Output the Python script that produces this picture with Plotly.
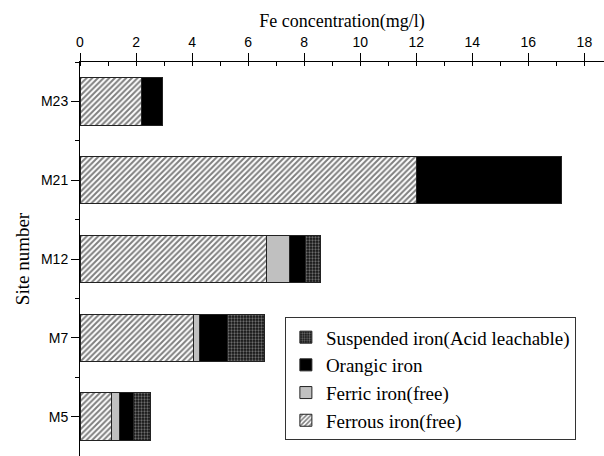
import plotly.graph_objects as go

sites = ["M5", "M7", "M12", "M21", "M23"]
ferrous = [1.12, 4.04, 6.64, 12.02, 2.20]
ferric = [0.30, 0.22, 0.82, 0.0, 0.0]
organic = [0.48, 1.01, 0.60, 5.16, 0.76]
suspended = [0.61, 1.32, 0.52, 0.0, 0.0]
x_ticks = [0, 2, 4, 6, 8, 10, 12, 14, 16, 18]

SERIF = "Liberation Serif"
SANS = "Liberation Sans"

ypos = list(range(len(sites)))
line = dict(color="#222", width=1)

fig = go.Figure()
fig.add_trace(go.Bar(
    y=ypos, x=ferrous, orientation="h", name="Ferrous iron(free)",
    marker=dict(color="white", line=line,
                pattern=dict(shape="/", fgcolor="black", bgcolor="white", size=4, solidity=0.5)),
    width=0.6))
fig.add_trace(go.Bar(
    y=ypos, x=ferric, orientation="h", name="Ferric iron(free)",
    marker=dict(color="#c0c0c0", line=line), width=0.6))
fig.add_trace(go.Bar(
    y=ypos, x=organic, orientation="h", name="Orangic iron",
    marker=dict(color="black", line=line), width=0.6))
fig.add_trace(go.Bar(
    y=ypos, x=suspended, orientation="h", name="Suspended iron(Acid leachable)",
    marker=dict(color="#111", line=line,
                pattern=dict(shape=".", fgcolor="#c8c8c8", bgcolor="#111", size=3, solidity=0.45)),
    width=0.6))

fig.update_layout(
    barmode="stack",
    width=604, height=456,
    margin=dict(l=80, r=0, t=62, b=0),
    plot_bgcolor="white", paper_bgcolor="white",
    font=dict(family=SANS, size=14, color="black"),
    showlegend=True,
    legend=dict(
        x=0.391, y=0.352, xanchor="left", yanchor="top",
        traceorder="reversed",
        bordercolor="#333", borderwidth=1, bgcolor="white",
        font=dict(family=SERIF, size=19),
        tracegroupgap=0, itemwidth=30,
    ),
    bargap=0.4,
)
fig.update_xaxes(
    side="top", range=[0, 18.7],
    tickvals=x_ticks, ticktext=[str(v) for v in x_ticks],
    ticks="outside", ticklen=8, tickwidth=1, tickcolor="black",
    tickfont=dict(family=SANS, size=14),
    minor=dict(ticks="inside", ticklen=4, tickcolor="black", dtick=1, tick0=0),
    showline=True, linecolor="black", linewidth=1,
    showgrid=False, zeroline=False,
    title=dict(text="Fe concentration(mg/l)",
               font=dict(family=SERIF, size=18), standoff=2),
)
fig.update_yaxes(
    range=[-0.5, 4.5],
    tickvals=ypos, ticktext=sites,
    ticks="outside", ticklen=8, tickwidth=1, tickcolor="black",
    tickfont=dict(family=SANS, size=14),
    minor=dict(ticks="outside", ticklen=4, tickcolor="black", tick0=0.5, dtick=1),
    showline=True, linecolor="black", linewidth=1,
    showgrid=False, zeroline=False,
    title=dict(text="Site number",
               font=dict(family=SERIF, size=19), standoff=6),
)

fig.write_html("out.html")
